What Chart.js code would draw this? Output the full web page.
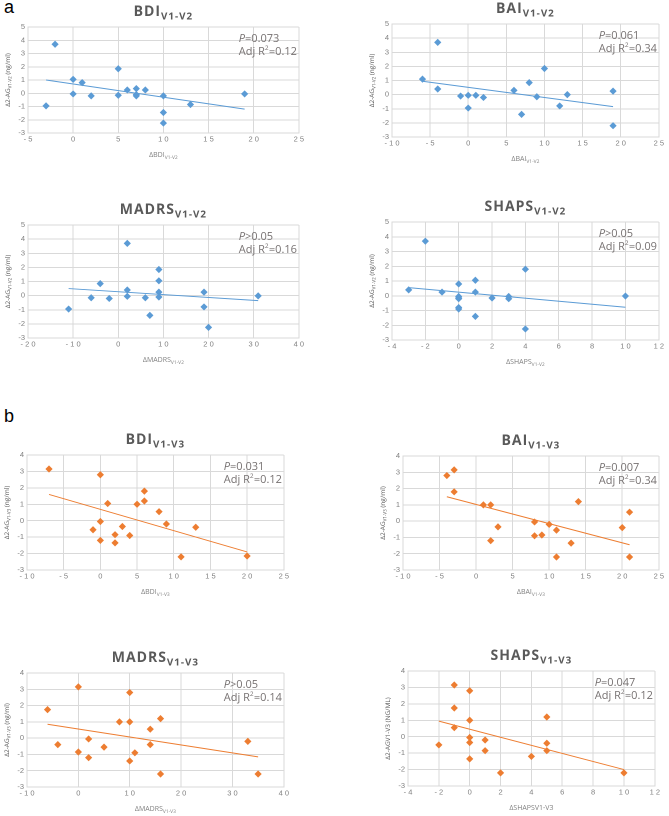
<!DOCTYPE html>
<html><head><meta charset="utf-8">
<script src="https://cdn.jsdelivr.net/npm/chart.js@4/dist/chart.umd.min.js"></script>
<style>body{margin:0;background:#fff;width:669px;height:816px;position:relative;overflow:hidden;font-family:"Open Sans",Arial,sans-serif}
canvas{position:absolute}.lab{position:absolute;font:18px Arial,sans-serif;color:#000}</style></head><body>
<div class="lab" style="left:4px;top:-3px">a</div>
<div class="lab" style="left:4px;top:406px">b</div>
<script>
// ---- data ----
const bdi12X=[-3,-2,0,0,1,2,5,5,6,7,7,7,8,10,10,10,13,19];
const bdi12Y=[-0.95,3.7,1.05,-0.05,0.8,-0.2,1.85,-0.15,0.25,0.35,-0.1,-0.2,0.25,-0.2,-1.45,-2.25,-0.85,-0.05];
const bai12X=[-6,-4,-4,-1,0,0,1,2,6,7,8,9,10,12,13,19,19];
const bai12Y=[1.1,3.7,0.4,-0.1,-0.05,-0.95,-0.05,-0.2,0.3,-1.4,0.85,-0.15,1.85,-0.8,0,0.25,-2.2];
const mad12X=[-11,-6,-4,-2,2,2,2,6,7,9,9,9,9,19,19,20,31];
const mad12Y=[-0.95,-0.15,0.85,-0.2,3.7,0.4,-0.05,-0.15,-1.4,1.85,1.05,0.25,-0.1,0.25,-0.8,-2.25,-0.02];
const sha12X=[-3,-2,-1,0,0,0,0,0,0,1,1,1,2,3,3,4,4,10];
const sha12Y=[0.4,3.7,0.25,0.8,-0.05,-0.15,-0.2,-0.8,-0.9,1.05,0.25,-1.4,-0.15,-0.05,-0.2,1.8,-2.25,-0.02];
const bdi13X=[-7,-1,0,0,0,1,2,2,3,4,5,6,6,8,9,11,13,20];
const bdi13Y=[3.15,-0.55,2.8,-0.05,-1.2,1.05,-0.85,-1.35,-0.35,-0.9,1.0,1.8,1.2,0.55,-0.2,-2.2,-0.4,-2.15];
const bai13X=[-4,-3,-3,1,2,2,3,8,8,9,10,11,11,13,14,20,21,21];
const bai13Y=[2.8,3.15,1.8,1.0,1.0,-1.2,-0.35,-0.05,-0.9,-0.85,-0.2,-0.55,-2.2,-1.35,1.2,-0.4,0.55,-2.2];
const mad13X=[-6,-4,0,0,2,2,5,8,10,10,10,11,14,14,16,16,33,35];
const mad13Y=[1.75,-0.4,3.15,-0.85,-0.05,-1.2,-0.55,1.0,2.8,1.0,-1.4,-0.9,0.55,-0.4,1.2,-2.2,-0.2,-2.2];
const sha13X=[-2,-1,-1,-1,0,0,0,0,0,1,1,2,4,5,5,5,10];
const sha13Y=[-0.5,3.15,1.75,0.55,2.8,1.0,-0.05,-0.35,-1.35,-0.2,-0.85,-2.2,-1.2,1.2,-0.4,-0.85,-2.2];
// trend line endpoints [x0,y0,x1,y1]
const trends=[[-3,1.0,19,-1.2],[-6,0.95,19,-0.85],[-11,0.5,31,-0.35],[-3,0.55,10,-0.78],
 [-7,1.6,20,-1.9],[-4,1.5,21,-1.45],[-6,0.85,35,-1.15],[-2,0.95,10,-2.0]];
const titles=[["BDI","V1-V2"],["BAI","V1-V2"],["MADRS","V1-V2"],["SHAPS","V1-V2"],["BDI","V1-V3"],["BAI","V1-V3"],["MADRS","V1-V3"],["SHAPS","V1-V3"]];
const pvals=["=0.073","=0.061",">0.05",">0.05","=0.031","=0.007",">0.05","=0.047"];
const r2=["0.12","0.34","0.16","0.09","0.12","0.34","0.14","0.12"];
const xRanges=[[-5,25,5],[-10,25,5],[-20,40,10],[-4,12,2],[-10,25,5],[-10,25,5],[-10,40,10],[-4,12,2]];
const yRanges=[[-3,5],[-3,5],[-3,5],[-3,5],[-3,4],[-3,4],[-3,4],[-3,4]];
const xTitles=[["ΔBDI","V1-V2"],["ΔBAI","V1-V2"],["ΔMADRS","V1-V2"],["ΔSHAPS","V1-V2"],["ΔBDI","V1-V3"],["ΔBAI","V1-V3"],["ΔMADRS","V1-V3"],["ΔSHAPSV1-V3",""]];
const yTitles=[["Δ2-AG","V1-V2"," (ng/ml)"],["Δ2-AG","V1-V2"," (ng/ml)"],["Δ2-AG","V1-V2"," (ng/ml)"],["Δ2-AG","V1-V2"," (ng/ml)"],["Δ2-AG","V1-V3"," (ng/ml)"],["Δ2-AG","V1-V3"," (ng/ml)"],["Δ2-AG","V1-V3"," (ng/ml)"],["Δ2-AGV1-V3 (NG/ML)","",""]];
const xs=[bdi12X,bai12X,mad12X,sha12X,bdi13X,bai13X,mad13X,sha13X];
const ys=[bdi12Y,bai12Y,mad12Y,sha12Y,bdi13Y,bai13Y,mad13Y,sha13Y];
// plot area boxes [left,top,right,bottom]
const boxes=[[28,27,302,133],[392,24,662,137],[28,225,302,338],[392,222,662,340],
 [27,455,287,570],[403,456,662,570],[27,673,287,787],[408,671,658,786]];
const PL=16,PT=32,PB=28,YW=12,XH=12;

function drawSub(ctx,x,y,main,sub,size,bold,align,ls){
  const f=(s)=>(bold?"bold ":"")+s+"px 'Open Sans',Arial,sans-serif";
  ctx.letterSpacing=(ls||0)+"px";
  ctx.font=f(size);const w1=ctx.measureText(main).width;
  ctx.font=f(size*0.7);const w2=ctx.measureText(sub).width;
  let sx=align==="center"?x-(w1+w2)/2:x;
  ctx.textAlign="left";ctx.textBaseline="alphabetic";
  ctx.font=f(size);ctx.fillText(main,sx,y);
  ctx.font=f(size*0.7);ctx.fillText(sub,sx+w1,y+size*0.25);
  ctx.letterSpacing="0px";
  return w1+w2;
}
for(let i=0;i<8;i++){
  const b=boxes[i];const blue=i<4;const col=blue?"#5b9bd5":"#ed7d31";
  const c=document.createElement("canvas");
  const left=b[0]-PL-YW,top=b[1]-PT,w=b[2]-left+4,h=b[3]-top+PB+XH;
  c.style.left=left+"px";c.style.top=top+"px";c.style.width=w+"px";c.style.height=h+"px";
  document.body.appendChild(c);
  const pts=xs[i].map((x,k)=>({x,y:ys[i][k]}));
  const t=trends[i];
  const deco={id:"deco",afterDraw(ch){const ctx=ch.ctx,a=ch.chartArea;ctx.save();
    ctx.fillStyle="#595959";drawSub(ctx,(a.left+a.right)/2,a.top-11,titles[i][0],titles[i][1],14,true,"center",1);
    ctx.fillStyle="#767171";
    ctx.font="italic 11px 'Open Sans',Arial";ctx.textAlign="left";ctx.textBaseline="alphabetic";
    const ax=a.right-60;ctx.fillText("P",ax,a.top+15);
    const pw=ctx.measureText("P").width;ctx.font="11px 'Open Sans',Arial";ctx.fillText(pvals[i],ax+pw,a.top+15);
    ctx.fillText("Adj R",ax,a.top+28);const rw=ctx.measureText("Adj R").width;
    ctx.font="6.5px 'Open Sans',Arial";ctx.fillText("2",ax+rw,a.top+23);
    ctx.font="11px 'Open Sans',Arial";ctx.fillText("="+r2[i],ax+rw+4,a.top+28);
    ctx.fillStyle="#808080";drawSub(ctx,(a.left+a.right)/2,a.bottom+XH+12,xTitles[i][0],xTitles[i][1],7,false,"center");
    ctx.translate(a.left-YW-6,(a.top+a.bottom)/2);ctx.rotate(-Math.PI/2);
    ctx.fillStyle="#595959";
    const yt=yTitles[i];ctx.font="6.5px 'Open Sans',Arial";
    const tw=ctx.measureText(yt[0]+yt[2]).width+ctx.measureText(yt[1]).width*0.7;
    let x0=-tw/2;const ww=drawSub(ctx,x0,0,yt[0],yt[1],6.5,false,"left");
    ctx.font="6.5px 'Open Sans',Arial";ctx.fillText(yt[2],x0+ww,0);
    ctx.restore();}};
  new Chart(c,{type:"scatter",data:{datasets:[
    {data:pts,pointStyle:"rectRot",pointRadius:3.6,backgroundColor:col,borderColor:col,borderWidth:0},
    {type:"line",data:[{x:t[0],y:t[1]},{x:t[2],y:t[3]}],borderColor:col,borderWidth:1,pointRadius:0,fill:false}]},
   options:{animation:false,responsive:false,devicePixelRatio:2,
    layout:{padding:{left:PL,top:PT,bottom:PB,right:4}},
    plugins:{legend:{display:false},tooltip:{enabled:false}},
    scales:{x:{type:"linear",min:xRanges[i][0],max:xRanges[i][1],afterFit:s=>{s.height=XH},
      ticks:{stepSize:xRanges[i][2],color:"#808080",font:{size:7.5},padding:2,maxRotation:0,callback:v=>String(v).split("").join(" ")},
      grid:{color:"#d9d9d9",drawTicks:false},border:{color:"#d9d9d9"}},
     y:{min:yRanges[i][0],max:yRanges[i][1],afterFit:s=>{s.width=YW},
      ticks:{stepSize:1,color:"#808080",font:{size:7.5},padding:3},
      grid:{color:"#d9d9d9",drawTicks:false},border:{color:"#d9d9d9"}}}},
   plugins:[deco]});
}
</script></body></html>
